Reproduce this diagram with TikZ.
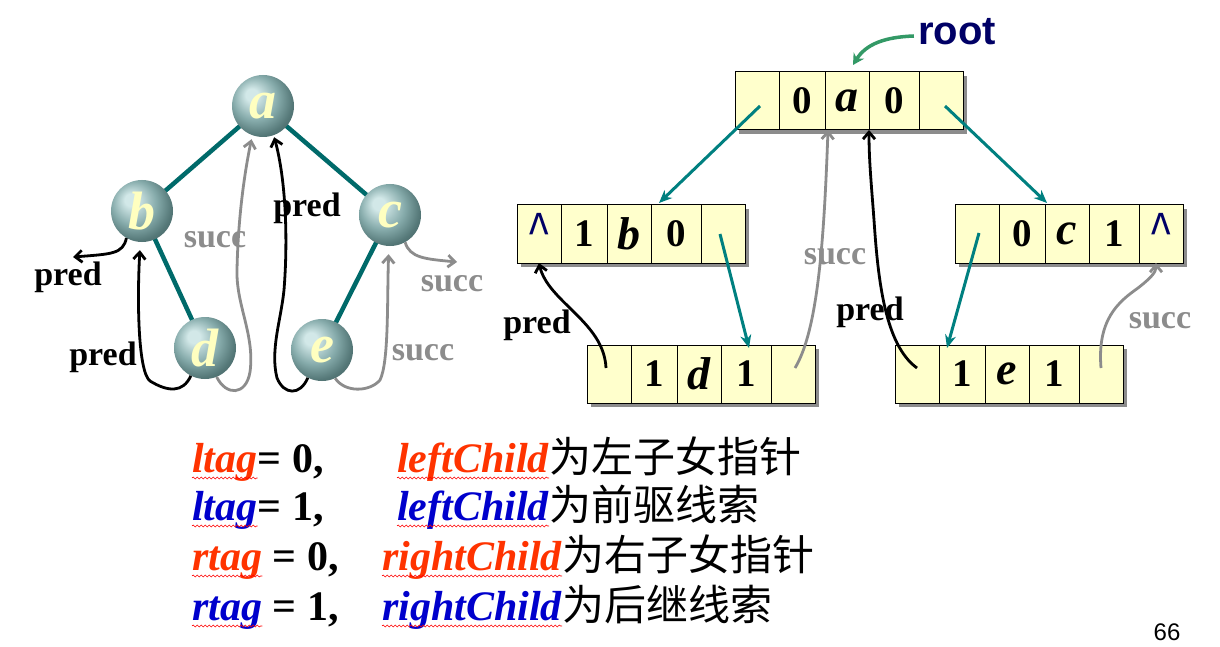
\documentclass[tikz,border=0pt]{standalone}
\usepackage{fontspec}
\setmainfont{Liberation Serif}
\newfontfamily\cjk{Noto Sans CJK SC}
\newfontfamily\arial{Liberation Sans}
\usetikzlibrary{arrows.meta,decorations.pathmorphing,calc}
\definecolor{tealE}{HTML}{006A6A}
\definecolor{tealA}{HTML}{008080}
\definecolor{grayA}{HTML}{8C8C8C}
\definecolor{redT}{HTML}{FF3300}
\definecolor{blueT}{HTML}{0000CC}
\definecolor{navyR}{HTML}{000066}
\definecolor{greenR}{HTML}{339966}
\definecolor{boxfill}{HTML}{FFFFCC}
\definecolor{letterY}{HTML}{FFFFC0}
\definecolor{ballhi}{HTML}{D2E8E8}
\definecolor{ballmid}{HTML}{86ABAB}
\definecolor{balldk}{HTML}{557878}
\definecolor{balledge}{HTML}{3E5C5C}
\pgfdeclareradialshading{myball}{\pgfqpoint{-10bp}{10bp}}{color(0bp)=(ballhi); color(5bp)=(ballhi); color(18bp)=(ballmid); color(28bp)=(balldk); color(37bp)=(balledge); color(50bp)=(balledge)}
\newcommand\hatc{{\arial\mdseries\fontsize{52}{52}\selectfont\color{navyR}\raisebox{-4pt}{\scalebox{0.8}[1.15]{\textasciicircum}}}}
\newcommand\bl[1]{{\fontsize{46}{46}\selectfont\itshape #1}}
\newcommand\cellrow[8]{%
  \fill[black!45] ({#2+4},{#3+4}) rectangle ({#2+232},{#3+62});
  \node[cell,minimum width=44pt] (#1-1) at (#2,#3) {#4};
  \node[cell,minimum width=46pt] (#1-2) at (#1-1.north east) {#5};
  \node[cell,minimum width=44pt] (#1-3) at (#1-2.north east) {#6};
  \node[cell,minimum width=50pt] (#1-4) at (#1-3.north east) {#7};
  \node[cell,minimum width=44pt] (#1-5) at (#1-4.north east) {#8};
}
\begin{document}
\begin{tikzpicture}[x=1pt,y=-1pt,
  ball/.style={circle, minimum size=62pt, inner sep=0pt, shade, shading=myball,
    font=\fontsize{54}{54}\selectfont\bfseries\itshape, text=letterY},
  treeedge/.style={tealE, line width=4.5pt},
  predc/.style={black, line width=2.8pt, -{Straight Barb[length=7pt,width=12pt]}},
  succc/.style={grayA, line width=2.8pt, -{Straight Barb[length=7pt,width=12pt]}},
  lbl/.style={font=\fontsize{34}{34}\selectfont\bfseries, inner sep=0pt},
  cell/.style={draw=black, line width=1pt, fill=boxfill, minimum height=58pt,
    inner sep=0pt, outer sep=0pt, anchor=north west, font=\fontsize{39}{39}\selectfont\bfseries},
  tarrow/.style={tealA, line width=3pt, -{Stealth[length=13pt,width=11pt]}},
  txt/.style={inner sep=0pt, anchor=base west, font=\fontsize{42}{42}\selectfont\bfseries},
  cjktxt/.style={inner sep=0pt, anchor=base west, font=\fontsize{42}{42}\selectfont\cjk},
  squig/.style={red, line width=0.6pt, decorate, decoration={snake, amplitude=1pt, segment length=4pt}}
]
\useasboundingbox (0,0) rectangle (1220,647);
\fill[white] (0,0) rectangle (1220,647);

% ---------- left tree ----------
\coordinate (pa) at (263,106);
\coordinate (pb) at (142,211);
\coordinate (pc) at (390,215);
\coordinate (pd) at (205,348);
\coordinate (pe) at (322,350);
\draw[treeedge] (pa) -- (pb);
\draw[treeedge] (pa) -- (pc);
\draw[treeedge] (pb) -- (pd);
\draw[treeedge] (pc) -- (pe);
\node[ball] (na) at (pa) {a};
\node[ball] (nb) at (pb) {b};
\node[ball] (nc) at (pc) {c};
\node[ball] (nd) at (pd) {d};
\node[ball] (ne) at (pe) {e};

\coordinate (bpe) at (73,257);
\coordinate (cse) at (457,262);
\draw[predc] (nb.240) .. controls (123,254) and (112,254) .. (bpe);
\draw[predc, shorten >=8pt] (nd.243) .. controls (183,393) and (168,392) .. (150,381)
   .. controls (138,372) and (137,300) .. (nb.267);
\draw[succc, shorten >=4pt] (nd.292) .. controls (226,396) and (246,396) .. (250,372)
   .. controls (255,335) and (236,305) .. (237,270)
   .. controls (238,220) and (244,175) .. (na.250);
\draw[predc, shorten >=2pt] (ne.243) .. controls (300,396) and (284,395) .. (277,378)
   .. controls (270,350) and (281,320) .. (284,290)
   .. controls (288,240) and (286,180) .. (na.290);
\draw[succc, shorten >=8pt] (ne.295) .. controls (345,393) and (370,392) .. (380,380)
   .. controls (389,362) and (387,300) .. (nc.268);
\draw[succc] (nc.299) .. controls (410,258) and (425,259) .. (cse);

\node[lbl] (lp1) at (68,277) {pred};
\node[lbl] (lp2) at (103,357) {pred};
\node[lbl, text=grayA] (ls1) at (215,240) {succ};
\node[lbl] (lp3) at (307,208) {pred};
\node[lbl, text=grayA] (ls2) at (423,353) {succ};
\node[lbl, text=grayA] (ls3) at (452,284) {succ};

% ---------- right: linked structure ----------
\cellrow{root}{735}{72}{}{0}{\bl{a}}{0}{}
\cellrow{bb}{517}{205}{\hatc}{1}{\bl{b}}{0}{}
\cellrow{bc}{955}{205}{}{0}{\bl{c}}{1}{\hatc}
\cellrow{bd}{587}{345}{}{1}{\bl{d}}{1}{}
\cellrow{be}{895}{345}{}{1}{\bl{e}}{1}{}

\node[font=\arial\bfseries\fontsize{40}{40}\selectfont, text=navyR, inner sep=0pt] (rootlbl) at (957,32) {root};
\draw[greenR, line width=3.5pt, -{Stealth[length=11pt,width=12pt]}]
  ([yshift=-4pt,xshift=-4pt]rootlbl.west) .. controls (885,37) and (866,44) .. ([xshift=6pt,yshift=7pt]root-3.north);

\draw[tarrow] ([xshift=3pt,yshift=-5pt]root-1.center) -- ([xshift=8pt,yshift=2pt]bb-3.north east);
\draw[tarrow] ([xshift=4pt,yshift=-5pt]root-5.center) -- ([xshift=2pt,yshift=2pt]bc-3.north west);
\draw[tarrow] ([xshift=-3pt,yshift=0pt]bb-5.center) -- ([xshift=3pt,yshift=-3pt]bd-4.north);
\draw[tarrow] ([xshift=2pt,yshift=1pt]bc-1.center) -- ([xshift=8pt,yshift=-3pt]be-2.north west);

\draw[predc] ([xshift=-3pt,yshift=6pt]bd-1.center) .. controls (604,322) and (548,302) .. (bb-1.south);
\draw[succc] ([xshift=2pt,yshift=6pt]bd-5.center) .. controls (818,330) and (824,240) .. ([xshift=3pt]root-2.south east);
\draw[predc] ([yshift=6pt]be-1.center) .. controls (885,345) and (878,280) .. (874,220)
   .. controls (871,180) and (869,160) .. (root-3.south east);
\draw[succc] ([yshift=6pt]be-5.center) .. controls (1097,320) and (1118,302) .. (1138,288)
   .. controls (1152,277) and (1156,272) .. ([xshift=-5pt]bc-5.south);

\node[lbl] (rp1) at (537,325) {pred};
\node[lbl, text=grayA] (rs1) at (835,257) {succ};
\node[lbl] (rp2) at (870,312) {pred};
\node[lbl, text=grayA] (rs2) at (1160,321) {succ};

% ---------- bottom text ----------
\node[txt, text=redT] (t1) at (192,472) {\itshape ltag};
\node[txt] (e1) at (t1.base east) {= 0,};
\node[txt, text=redT] (c1) at (397,472) {\itshape leftChild};
\node[cjktxt] (z1) at (c1.base east) {为左子女指针};

\node[txt, text=blueT] (t2) at (192,520) {\itshape ltag};
\node[txt] (e2) at (t2.base east) {= 1,};
\node[txt, text=blueT] (c2) at (397,520) {\itshape leftChild};
\node[cjktxt] (z2) at (c2.base east) {为前驱线索};

\node[txt, text=redT] (t3) at (192,570) {\itshape rtag};
\node[txt] (e3) at (t3.base east) {\hspace*{10pt}= 0,};
\node[txt, text=redT] (c3) at (382,570) {\itshape rightChild};
\node[cjktxt] (z3) at (c3.base east) {为右子女指针};

\node[txt, text=blueT] (t4) at (192,620) {\itshape rtag};
\node[txt] (e4) at (t4.base east) {\hspace*{10pt}= 1,};
\node[txt, text=blueT] (c4) at (382,620) {\itshape rightChild};
\node[cjktxt] (z4) at (c4.base east) {为后继线索};

\foreach \w in {t1,c1,t2,c2,t3,c3,t4,c4}{
  \draw[squig] ([yshift=-6pt]\w.base west) -- ([yshift=-6pt]\w.base east);
}

\node[font=\arial\fontsize{24}{24}\selectfont, inner sep=0pt] (pg) at (1167,632) {66};
\end{tikzpicture}
\end{document}
